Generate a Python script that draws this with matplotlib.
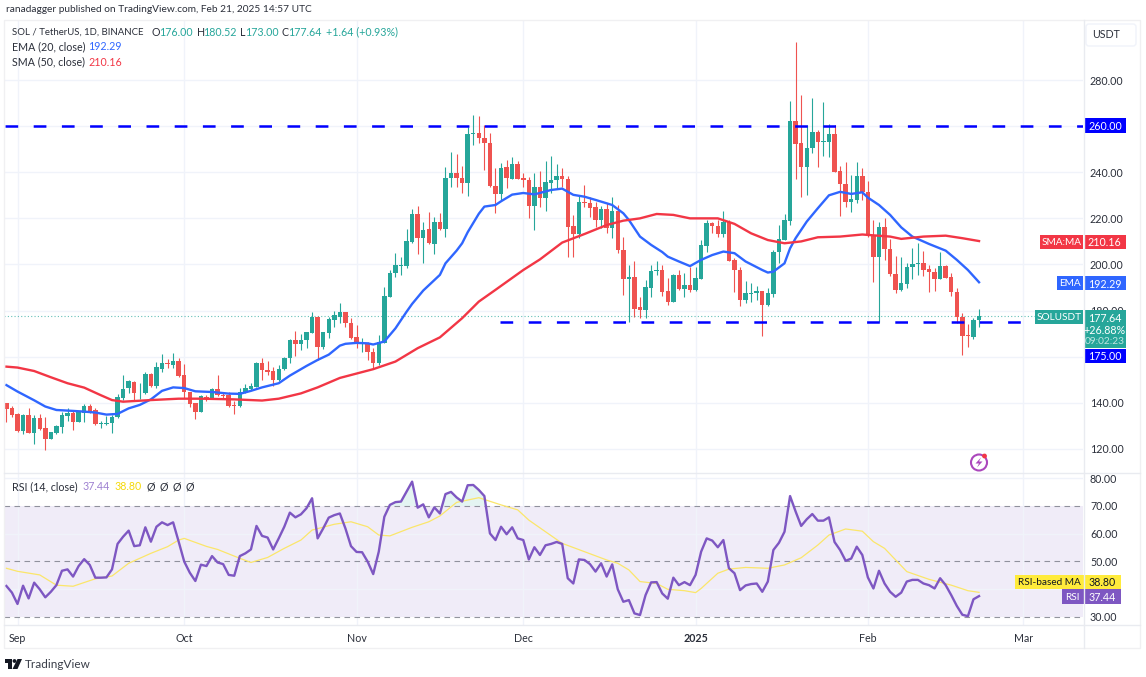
#!/usr/bin/env python3

import matplotlib
matplotlib.use("Agg")
import matplotlib.pyplot as plt
import numpy as np
from matplotlib.patches import Circle, FancyBboxPatch, Polygon, Rectangle

# day numbers count from Sep 1 2024 = 0, first candle is Aug 30
first_day = -2

opens = [
	139.8, 137.8, 135.2, 127.7, 134.7, 126.8, 133.3, 129.1, 124.3, 126.8,
	129.7, 134.5, 135.5, 131.9, 135.8, 138.8, 136.9, 130.8, 130.8, 131.1,
	133.7, 142.0, 146.3, 149.2, 144.1, 144.1, 152.5, 147.3, 154.7, 157.4,
	156.4, 158.2, 152.1, 144.7, 139.8, 136.2, 142.7, 141.7, 146.0, 143.6,
	143.3, 139.1, 138.5, 144.7, 145.9, 146.9, 157.4, 154.3, 154.0, 149.9,
	154.5, 159.3, 167.2, 165.5, 167.2, 170.4, 177.1, 164.4, 170.4, 175.9,
	177.4, 179.3, 174.8, 168.4, 165.8, 165.8, 162.2, 157.2, 166.1, 186.1,
	196.2, 199.5, 199.4, 209.9, 221.9, 211.4, 215.3, 209.0, 218.3, 215.6,
	237.4, 239.8, 237.5, 235.2, 256.4, 256.9, 255.0, 252.5, 234.2, 230.6,
	242.1, 237.2, 243.4, 237.4, 236.6, 225.4, 233.8, 228.8, 235.5, 236.6,
	238.2, 237.1, 216.7, 213.1, 227.1, 226.8, 224.8, 219.4, 224.2, 215.8,
	223.2, 206.3, 193.6, 194.4, 181.4, 180.3, 189.7, 197.2, 197.6, 188.3,
	183.8, 195.3, 189.4, 191.0, 189.0, 193.7, 208.0, 217.9, 216.7, 213.2,
	218.5, 202.0, 197.4, 184.6, 187.2, 187.5, 188.5, 182.3, 187.2, 205.6,
	210.6, 219.0, 262.2, 252.6, 242.2, 250.4, 257.6, 253.3, 253.3, 256.6,
	240.6, 234.9, 227.0, 228.0, 238.4, 231.6, 212.8, 203.1, 216.4, 206.8,
	195.9, 189.0, 191.6, 199.1, 200.2, 200.5, 197.9, 196.6, 193.9, 199.4,
	194.6, 188.1, 177.4, 169.5, 168.7, 176.00,
]
closes = [
	137.5, 134.7, 127.7, 134.7, 126.8, 133.3, 128.8, 124.3, 127.2, 130.0,
	134.7, 135.5, 131.9, 136.2, 138.8, 136.2, 130.7, 131.4, 131.4, 134.0,
	142.4, 146.2, 149.3, 144.1, 144.4, 152.5, 147.3, 155.4, 157.4, 156.7,
	158.2, 151.7, 144.9, 139.5, 136.2, 143.0, 141.7, 146.0, 143.4, 143.0,
	138.8, 138.8, 144.9, 146.3, 147.3, 157.4, 154.3, 153.5, 149.9, 154.7,
	159.4, 167.2, 165.5, 167.2, 170.6, 177.1, 164.4, 170.6, 176.2, 178.1,
	179.2, 174.8, 168.0, 165.4, 166.1, 161.9, 157.2, 166.3, 186.4, 196.2,
	199.8, 199.8, 210.1, 221.9, 211.4, 215.0, 209.2, 218.3, 215.6, 237.5,
	239.8, 237.4, 235.2, 256.6, 256.9, 254.7, 252.5, 234.1, 230.4, 241.9,
	237.4, 243.4, 237.2, 236.6, 225.4, 233.8, 229.0, 235.6, 236.6, 238.2,
	237.1, 216.4, 213.1, 227.1, 226.5, 224.7, 219.3, 224.2, 216.0, 223.2,
	206.3, 193.6, 194.4, 180.7, 180.3, 190.1, 197.0, 197.6, 188.0, 183.8,
	195.3, 189.3, 191.0, 189.0, 194.2, 208.3, 217.9, 216.7, 213.2, 218.5,
	201.7, 197.4, 184.6, 187.5, 187.8, 188.5, 182.5, 187.5, 205.6, 211.2,
	219.3, 262.2, 252.3, 242.2, 250.5, 257.6, 253.0, 253.6, 256.6, 240.3,
	234.8, 227.0, 228.4, 238.4, 231.6, 212.8, 203.1, 216.4, 206.8, 195.8,
	189.0, 191.9, 199.1, 200.4, 200.5, 197.6, 196.6, 193.9, 199.4, 194.3,
	188.0, 177.4, 169.2, 168.9, 176.0, 177.64,
]
highs = [
	140.1, 138.6, 135.5, 135.2, 137.6, 134.7, 135.2, 134.0, 127.5, 130.4,
	136.2, 137.6, 136.6, 136.6, 139.5, 139.5, 137.6, 132.1, 134.3, 134.7,
	143.8, 152.1, 149.9, 149.6, 148.8, 153.5, 152.8, 157.6, 161.0, 158.9,
	161.5, 159.3, 156.9, 144.9, 140.1, 143.4, 143.4, 146.3, 152.1, 144.1,
	144.9, 140.8, 146.3, 148.2, 148.5, 157.9, 159.3, 158.2, 155.4, 156.4,
	159.7, 167.5, 171.3, 169.9, 170.9, 179.2, 177.7, 170.9, 177.4, 180.0,
	183.2, 179.6, 176.7, 173.8, 168.0, 166.6, 163.7, 169.4, 190.1, 197.6,
	204.9, 203.4, 215.3, 224.1, 225.4, 218.6, 222.6, 220.8, 222.2, 242.4,
	248.6, 247.9, 242.7, 259.8, 264.8, 264.4, 260.5, 256.9, 241.7, 243.9,
	245.3, 246.8, 245.0, 239.5, 238.1, 239.8, 240.7, 244.9, 247.1, 243.6,
	241.7, 238.5, 221.5, 230.1, 234.5, 229.4, 227.3, 225.4, 226.5, 229.1,
	225.8, 211.8, 199.8, 201.7, 186.1, 193.3, 199.8, 201.7, 199.8, 194.0,
	195.8, 197.4, 196.2, 199.1, 198.8, 210.7, 219.3, 218.6, 219.3, 223.2,
	219.3, 202.7, 198.8, 193.0, 192.1, 190.7, 188.7, 189.7, 206.3, 217.1,
	221.9, 271.1, 296.3, 273.5, 260.5, 272.1, 258.3, 270.3, 260.9, 260.5,
	242.7, 244.3, 238.8, 244.6, 241.7, 236.4, 219.3, 218.6, 220.0, 210.9,
	203.7, 203.4, 200.8, 207.0, 209.2, 206.0, 199.8, 198.3, 205.3, 199.8,
	196.2, 189.7, 178.9, 174.1, 176.7, 180.52,
]
lows = [
	131.9, 134.0, 127.4, 126.5, 126.8, 122.2, 128.2, 119.6, 124.2, 126.5,
	127.1, 132.3, 128.2, 131.9, 131.9, 135.8, 130.4, 129.0, 130.4, 127.1,
	133.6, 141.2, 144.1, 141.2, 141.5, 143.8, 147.0, 146.3, 153.5, 155.0,
	155.0, 151.4, 142.0, 138.4, 133.0, 135.9, 140.8, 141.5, 143.0, 141.9,
	138.4, 135.2, 138.4, 144.4, 145.6, 146.7, 149.9, 152.1, 147.3, 149.6,
	154.3, 157.4, 160.3, 162.9, 163.6, 170.2, 158.6, 163.2, 168.3, 172.7,
	174.5, 173.1, 167.6, 163.7, 162.2, 158.6, 154.6, 156.5, 165.8, 185.8,
	194.5, 195.5, 198.6, 209.2, 204.6, 200.5, 208.9, 204.6, 215.0, 212.1,
	233.5, 233.5, 230.9, 229.9, 251.8, 252.8, 241.0, 233.8, 222.2, 228.0,
	233.0, 236.9, 236.9, 233.8, 220.0, 215.0, 224.8, 223.3, 230.9, 233.0,
	233.5, 203.1, 203.1, 211.4, 225.1, 220.8, 216.4, 215.7, 213.5, 211.4,
	205.1, 186.8, 175.2, 177.4, 176.7, 176.7, 186.1, 195.5, 186.4, 182.5,
	183.6, 189.0, 185.8, 188.2, 188.7, 193.7, 205.6, 213.8, 211.8, 211.8,
	201.7, 188.2, 182.2, 183.5, 183.9, 184.4, 169.2, 182.0, 185.8, 200.8,
	210.4, 217.1, 236.9, 229.4, 230.2, 248.5, 242.4, 247.2, 246.8, 240.0,
	221.2, 225.1, 222.9, 226.8, 228.0, 212.1, 192.6, 175.2, 202.0, 195.0,
	187.5, 188.7, 189.7, 193.6, 195.5, 195.0, 188.2, 188.7, 193.6, 194.0,
	186.5, 174.5, 160.8, 164.0, 167.6, 173.0,
]

ema_days = [
	-2, 0, 3, 5, 7, 10, 12, 14, 16, 18, 20, 22, 24, 26, 28, 30, 32, 35, 38, 40,
	42, 44, 47, 49, 52, 54, 56, 58, 59, 61, 63, 64, 66, 68, 70, 71, 73, 76, 77, 79,
	80, 81, 83, 84, 86, 87, 89, 91, 93, 96, 98, 100, 102, 104, 107, 109, 110, 112, 114, 116,
	117, 119, 121, 123, 125, 127, 129, 131, 134, 135, 136, 138, 139, 140, 142, 144, 146, 148, 150, 152,
	153, 155, 157, 159, 161, 164, 167, 169, 171, 173,
]
ema_vals = [
	147.7, 144.9, 141.1, 138.4, 136.9, 136.5, 136.2, 135.8, 134.9, 135.2, 137.6, 139.1, 141.5, 145.2, 146.7, 146.4, 145.0, 144.7, 144.0, 143.9,
	145.2, 146.7, 148.5, 151.8, 156.0, 158.6, 160.9, 164.8, 165.6, 166.0, 165.8, 165.3, 166.6, 172.3, 179.5, 182.9, 188.7, 195.5, 200.5, 206.0,
	209.2, 214.0, 222.0, 225.1, 225.8, 227.4, 230.3, 231.0, 230.4, 232.3, 232.9, 230.2, 229.4, 228.0, 225.8, 222.2, 219.3, 212.1, 208.5, 205.4,
	203.4, 201.3, 199.3, 202.0, 204.1, 205.6, 204.9, 201.3, 197.6, 196.5, 196.9, 200.5, 207.0, 211.4, 218.6, 224.4, 230.0, 231.5, 230.6, 231.3,
	229.0, 225.8, 221.5, 216.1, 212.1, 208.9, 206.0, 202.0, 197.6, 192.29,
]
sma_days = [
	-2, 0, 3, 6, 9, 12, 15, 17, 19, 24, 29, 33, 39, 44, 47, 51, 54, 58, 64, 68, 72, 76, 80, 83, 86, 91,
	94, 98, 102, 106, 109, 112, 115, 118, 121, 126, 129, 132, 135, 138, 141, 144, 148, 152, 157, 159, 163, 167, 170, 173,
]
sma_vals = [
	155.7, 155.3, 153.8, 151.1, 148.5, 146.6, 143.3, 141.2, 140.5, 141.2, 141.8, 141.8, 141.5, 141.0, 141.8, 144.1, 146.7, 150.8, 154.6, 157.9, 163.7, 168.4, 176.7, 183.9, 189.0, 197.6,
	202.2, 209.5, 213.2, 217.1, 219.0, 220.0, 221.9, 221.5, 220.0, 220.0, 217.6, 213.5, 210.6, 209.2, 210.0, 211.8, 212.1, 213.0, 212.1, 211.1, 212.1, 212.5, 211.4, 210.16,
]

rsi_vals = [
	41.1, 38.7, 34.6, 41.2, 36.6, 42.3, 39.9, 37.0, 39.0, 41.4,
	46.6, 47.1, 44.5, 48.3, 50.8, 48.7, 44.1, 44.1, 44.2, 47.1,
	56.3, 58.9, 61.1, 55.5, 55.8, 62.3, 57.1, 62.5, 64.1, 63.1,
	64.1, 57.1, 49.9, 45.9, 42.9, 48.8, 48.3, 51.9, 49.6, 49.0,
	45.1, 44.8, 51.9, 52.9, 54.3, 62.8, 59.2, 58.6, 54.3, 58.3,
	62.5, 67.6, 65.9, 67.0, 69.2, 72.8, 58.3, 61.9, 65.8, 66.7,
	67.3, 61.9, 55.5, 53.4, 53.3, 49.9, 45.4, 53.5, 66.1, 70.4,
	71.4, 71.6, 75.2, 78.8, 69.4, 70.6, 65.9, 69.5, 67.3, 74.3,
	75.1, 73.1, 71.6, 77.5, 77.6, 75.8, 73.6, 60.1, 57.7, 62.5,
	59.8, 62.3, 58.3, 57.7, 50.7, 55.1, 52.3, 55.8, 56.3, 57.0,
	56.3, 43.9, 42.0, 50.7, 50.5, 49.0, 46.3, 49.3, 44.5, 48.9,
	39.9, 35.4, 36.0, 31.2, 30.6, 37.8, 42.4, 42.5, 38.4, 36.5,
	44.1, 41.4, 42.5, 41.4, 45.1, 53.5, 58.3, 57.5, 55.1, 57.7,
	47.5, 45.7, 39.6, 41.3, 41.8, 42.0, 39.0, 42.7, 54.1, 56.7,
	60.7, 73.6, 68.0, 62.8, 65.2, 67.1, 64.7, 64.7, 65.9, 57.0,
	54.1, 50.2, 51.0, 55.3, 52.3, 44.2, 40.2, 46.6, 42.0, 39.0,
	37.2, 38.7, 42.7, 43.3, 43.3, 42.0, 41.4, 40.2, 43.9, 41.4,
	37.8, 33.9, 30.7, 30.2, 36.3, 37.44,
]
rsi_ma_days = [
	-2, 0, 4, 7, 10, 14, 17, 20, 24, 27, 29, 30, 34, 36, 40, 42, 45, 48, 51, 53, 57, 60, 63, 65, 67, 71, 74, 76, 79, 83, 87,
	90, 92, 95, 98, 102, 106, 108, 110, 112, 115, 117, 120, 122, 123, 126, 128, 131, 135, 138, 141, 144, 146, 149, 152, 154, 156, 160, 164, 168, 171, 173,
]
rsi_ma_vals = [
	47.5, 46.4, 45.1, 41.4, 41.0, 43.7, 44.7, 49.3, 52.9, 55.3, 57.7, 58.3, 55.4, 54.3, 51.1, 49.6, 51.4, 54.7, 57.7, 61.3, 63.4, 64.3, 62.5, 59.5, 59.2, 62.3, 64.3, 66.4, 71.3, 73.0, 70.4,
	68.6, 64.9, 60.7, 56.5, 53.5, 50.5, 49.3, 46.9, 42.7, 42.0, 39.9, 39.4, 38.7, 40.2, 45.7, 47.2, 47.8, 47.5, 48.7, 51.3, 55.9, 59.5, 61.7, 60.9, 57.1, 54.7, 46.3, 43.5, 41.4, 39.4, 38.80,
]

resistance = 260.0
support = 175.0
last_price = 177.64

price_ticks = [120, 140, 160, 180, 200, 220, 240, 260, 280]
rsi_ticks = [30, 50, 60, 70, 80]
rsi_grid = [40, 60, 80]
month_days = [0, 30, 61, 91, 122, 153, 181]
month_labels = ["Sep", "Oct", "Nov", "Dec", "2025", "Feb", "Mar"]

GREEN = "#26a69a"
RED = "#ef5350"
BLUE = "#2f66ff"
SMA_RED = "#f23645"
PURPLE = "#7e57c2"
YELLOW = "#ffeb3b"
GRID = "#f0f3fa"
TEXT = "#2a2e39"
LEVEL = "#0000ff"

W, H = 1146, 677
FS = 7.7


def pane(left, top, right, bottom):
	# axes from pixel edges
	return plt.gcf().add_axes([left / W, 1 - bottom / H, (right - left) / W, (bottom - top) / H])


def tag(ax, x0, x1, y0, y1, color, text, text_color="white", size=FS):
	ax.add_patch(Rectangle((x0, y0), x1 - x0, y1 - y0, color=color, lw=0))
	ax.text((x0 + x1) / 2, (y0 + y1) / 2, text, color=text_color, ha="center", va="center_baseline", fontsize=size)


def main():
	plt.rcParams["font.family"] = ["Lato", "DejaVu Sans"]

	fig = plt.figure(figsize=(W / 100, H / 100), dpi=100, facecolor="white")

	days = np.arange(first_day, first_day + len(closes))
	o, h, l, c = map(np.array, (opens, highs, lows, closes))
	up = c >= o
	colors = np.where(up, GREEN, RED)

	left_d = (4 - 17.5) / 5.558
	right_d = (1083 - 17.5) / 5.558

	# price pane
	ax = pane(4, 20, 1083, 473)
	ax.set_xlim(left_d, right_d)
	ax.set_ylim(280 - 393 / 2.306, 280 + 60 / 2.306)
	ax.grid(True, color=GRID, lw=1)
	ax.set_axisbelow(True)
	ax.set_xticks(month_days)
	ax.set_xticklabels([])
	ax.set_yticks(price_ticks)
	# the 260 label sits under its level tag
	ax.set_yticklabels(["" if p == resistance else f"{p:.2f}" for p in price_ticks], fontsize=FS, color=TEXT)
	ax.yaxis.tick_right()
	ax.tick_params(length=0, pad=5)

	ax.vlines(days, l, h, colors=colors, lw=0.8, zorder=2)
	ax.bar(days, np.maximum(np.abs(c - o), 0.3), bottom=np.minimum(o, c), width=0.8, color=colors, lw=0, zorder=3)

	ax.axhline(last_price, color=GREEN, lw=0.8, ls=(0, (1, 2)), alpha=0.7, zorder=2)
	ax.plot(ema_days, ema_vals, color=BLUE, lw=1.7, zorder=4, solid_joinstyle="round")
	ax.plot(sma_days, sma_vals, color=SMA_RED, lw=1.7, zorder=4, solid_joinstyle="round")

	dash = (0, (5.08, 6.2))
	ax.plot([left_d + 0.2, right_d], [resistance, resistance], color=LEVEL, lw=1.8, ls=dash, dash_capstyle="butt", zorder=5)
	ax.plot([86.8, 181.1], [support, support], color=LEVEL, lw=1.8, ls=dash, dash_capstyle="butt", zorder=5)

	# rsi pane
	ax_rsi = pane(4, 473, 1083, 625)
	ax_rsi.set_xlim(left_d, right_d)
	ax_rsi.set_ylim(70 - 119 / 2.7675, 70 + 33 / 2.7675)
	ax_rsi.set_xticks(month_days)
	ax_rsi.set_xticklabels(month_labels, fontsize=FS, color=TEXT)
	ax_rsi.get_xticklabels()[4].set_fontweight("bold")
	ax_rsi.set_yticks(rsi_ticks)
	ax_rsi.set_yticklabels([f"{v:.2f}" for v in rsi_ticks], fontsize=FS, color=TEXT)
	ax_rsi.yaxis.tick_right()
	ax_rsi.tick_params(axis="y", length=0, pad=5)
	ax_rsi.tick_params(axis="x", length=0, pad=6)
	ax_rsi.grid(True, axis="x", color=GRID, lw=1)
	ax_rsi.set_axisbelow(True)
	for v in rsi_grid:
		ax_rsi.axhline(v, color=GRID, lw=1, zorder=1)
	ax_rsi.axhspan(30, 70, color=PURPLE, alpha=0.11, lw=0, zorder=0)
	for v in [30, 50, 70]:
		ax_rsi.axhline(v, color="#787b86", lw=0.8, ls=(0, (5, 4)), alpha=0.8, zorder=2)
	rsi = np.array(rsi_vals)
	ax_rsi.fill_between(days, 70, rsi, where=rsi > 70, interpolate=True, color=GREEN, alpha=0.12, lw=0)
	ax_rsi.plot(rsi_ma_days, rsi_ma_vals, color="#fbe66a", lw=0.9, zorder=3)
	ax_rsi.plot(days, rsi, color=PURPLE, lw=1.7, zorder=4, solid_joinstyle="round")

	for a in (ax, ax_rsi):
		for s in a.spines.values():
			s.set_visible(False)

	# overlay in pixels for frame, legends, tags
	ov = fig.add_axes([0, 0, 1, 1], zorder=10)
	ov.set_xlim(0, W)
	ov.set_ylim(H, 0)
	ov.axis("off")
	ov.patch.set_alpha(0)

	frame = "#e9ebf0"
	ov.add_patch(Rectangle((4, 20), 1136, 628, fill=False, ec="#f0f0f2", lw=1))
	ov.plot([1083.5, 1083.5], [20, 648], color=frame, lw=1)
	ov.plot([4, 1140], [473, 473], color=frame, lw=1)
	ov.plot([4, 1140], [625, 625], color=frame, lw=1)

	ov.text(6, 9, "ranadagger published on TradingView.com, Feb 21, 2025 14:57 UTC", fontsize=7.3, color=TEXT, va="center")

	ov.text(11.5, 32, "SOL / TetherUS, 1D, BINANCE", fontsize=6.9, color=TEXT, va="center")
	for x, s, col in [
		(152, "O", TEXT), (159, f"{opens[-1]:.2f}", GREEN),
		(197, "H", TEXT), (203, f"{highs[-1]:.2f}", GREEN),
		(240, "L", TEXT), (245, f"{lows[-1]:.2f}", GREEN),
		(282, "C", TEXT), (288, f"{closes[-1]:.2f}", GREEN),
		(325.5, "+1.64 (+0.93%)", GREEN),
	]:
		ov.text(x, 32, s, fontsize=FS, color=col, va="center")
	ov.text(11.5, 47, "EMA (20, close)", fontsize=FS, color=TEXT, va="center")
	ov.text(88, 47, f"{ema_vals[-1]:.2f}", fontsize=FS, color=BLUE, va="center")
	ov.text(11.5, 62, "SMA (50, close)", fontsize=FS, color=TEXT, va="center")
	ov.text(88, 62, f"{sma_vals[-1]:.2f}", fontsize=FS, color=SMA_RED, va="center")

	ov.text(11.5, 487, "RSI (14, close)", fontsize=FS, color=TEXT, va="center")
	ov.text(83, 487, f"{rsi_vals[-1]:.2f}", fontsize=FS, color=PURPLE, alpha=0.75, va="center")
	ov.text(115, 487, f"{rsi_ma_vals[-1]:.2f}", fontsize=FS, color="#f5d90a", va="center")
	for x in (146.5, 159.5, 172.5, 185):
		ov.text(x, 487, "\u00d8", fontsize=FS, color=TEXT, va="center")

	# currency button
	ov.add_patch(FancyBboxPatch((1088, 26), 46, 18, boxstyle="round,pad=2,rounding_size=3", fc="white", ec="#f0f3fa", lw=1))
	ov.text(1106, 35, "USDT", fontsize=FS, color=TEXT, ha="center", va="center")

	# price tags
	tag(ov, 1084, 1126, 118, 132.5, LEVEL, f"{resistance:.2f}")
	tag(ov, 1040, 1083, 234.5, 248.5, SMA_RED, "SMA:MA", size=7.2)
	tag(ov, 1083.5, 1126, 234.5, 248.5, SMA_RED, f"{sma_vals[-1]:.2f}")
	tag(ov, 1056.5, 1083, 276, 290, BLUE, "EMA", size=7.2)
	tag(ov, 1083.5, 1126, 276, 290, BLUE, f"{ema_vals[-1]:.2f}")
	tag(ov, 1035, 1083, 309.5, 324, GREEN, "SOLUSDT", size=7.2)
	ov.add_patch(Rectangle((1083.5, 309.5), 42.5, 38.5, color=GREEN, lw=0))
	ov.text(1104.5, 317, f"{last_price:.2f}", color="white", fontsize=FS, ha="center", va="center_baseline")
	ov.text(1104.5, 329, "+26.88%", color="white", fontsize=FS, ha="center", va="center_baseline")
	ov.text(1104.5, 340.5, "09:02:23", color="#bfe5e1", fontsize=7.3, ha="center", va="center_baseline")
	tag(ov, 1084, 1126, 348.5, 362.5, LEVEL, f"{support:.2f}")

	tag(ov, 1015, 1083.5, 574.5, 589, YELLOW, "RSI-based MA", text_color="#131722", size=7.2)
	tag(ov, 1084, 1121, 574.5, 589, YELLOW, f"{rsi_ma_vals[-1]:.2f}", text_color="#131722")
	tag(ov, 1061.5, 1083.5, 589, 603.5, PURPLE, "RSI", size=7.2)
	tag(ov, 1084, 1121, 589, 603.5, PURPLE, f"{rsi_vals[-1]:.2f}")

	# news flash icon
	ov.add_patch(Circle((979, 462.5), 8, fill=False, ec="#ab47bc", lw=1.5))
	ov.add_patch(Polygon([(981, 457.5), (975.5, 463.5), (979, 463.5), (977, 467.5), (982.5, 461.5), (979, 461.5)], color="#ab47bc", lw=0))
	ov.add_patch(Circle((984.5, 456), 2.4, color="#f23645", lw=0))

	# TradingView logo
	ov.add_patch(Polygon([(5, 659), (12, 659), (12, 669), (8, 669), (8, 663), (5, 663)], color="#131722", lw=0))
	ov.add_patch(Circle((14.5, 661), 1.9, color="#131722", lw=0))
	ov.add_patch(Polygon([(17.5, 659), (22, 659), (17.5, 669), (12.5, 669)], color="#131722", lw=0))
	ov.text(25, 664, "TradingView", fontsize=8.5, color="#3a3e49", va="center")

	fig.savefig("out.png", dpi=100)


if __name__ == "__main__":
	main()
